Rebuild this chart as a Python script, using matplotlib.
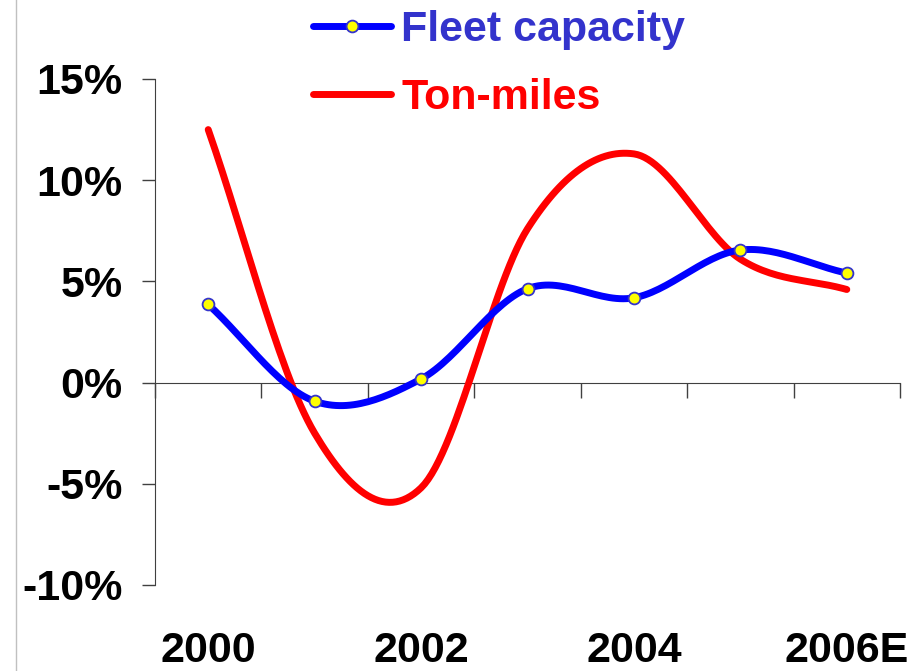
import numpy as np
import matplotlib.pyplot as plt
from matplotlib.lines import Line2D

# --- data ---
years = ['2000', '2001', '2002', '2003', '2004', '2005', '2006E']
fleet_capacity = [3.86, -0.92, 0.18, 4.64, 4.19, 6.55, 5.41]
ton_miles = [12.5, -2.5, -5.2, 7.6, 11.3, 6.1, 4.6]
shown_labels = ['2000', '2002', '2004', '2006E']
yticks = [-10, -5, 0, 5, 10, 15]


def smooth(y, n=30):
    # Excel-style smoothed line: cardinal (Catmull-Rom) spline through the points
    y = np.asarray(y, dtype=float)
    k = len(y)
    m = np.zeros(k)
    m[1:-1] = (y[2:] - y[:-2]) / 2
    m[0] = y[1] - y[0]
    m[-1] = y[-1] - y[-2]
    xs, ys = [], []
    for i in range(k - 1):
        t = np.linspace(0, 1, n, endpoint=(i == k - 2))
        h00 = 2 * t**3 - 3 * t**2 + 1
        h10 = t**3 - 2 * t**2 + t
        h01 = -2 * t**3 + 3 * t**2
        h11 = t**3 - t**2
        xs.append(i + t)
        ys.append(h00 * y[i] + h10 * m[i] + h01 * y[i + 1] + h11 * m[i + 1])
    return np.concatenate(xs), np.concatenate(ys)


BLUE = '#0000FF'
RED = '#FF0000'
LEGEND_BLUE = '#3333CC'
AXIS = '#404040'
LW = 5

plt.rcParams['font.family'] = ['Liberation Sans', 'DejaVu Sans']
plt.rcParams['font.weight'] = 'bold'

fig = plt.figure(figsize=(9.14, 6.71), dpi=100)
ax = fig.add_axes([155 / 914, 1 - 585 / 671, 745 / 914, 506 / 671])

x = np.arange(len(years))
fx, fy = smooth(fleet_capacity)
tx, ty = smooth(ton_miles)

ax.plot(tx, ty, color=RED, lw=LW, solid_capstyle='round', zorder=3)
ax.plot(fx, fy, color=BLUE, lw=LW, solid_capstyle='round', zorder=4)
ax.plot(x, fleet_capacity, ls='none', marker='o', ms=8.5, mfc='yellow',
        mec=LEGEND_BLUE, mew=1.3, zorder=5)

ax.set_xlim(-0.5, len(years) - 0.5)
ax.set_ylim(-10, 15)

# y axis
ax.set_yticks(yticks)
ax.set_yticklabels([f'{v}%' for v in yticks], fontsize=31, fontweight='bold')
ax.tick_params(axis='y', direction='out', length=9.4, width=1, color=AXIS, pad=14)

# x axis sits on the 0% line, ticks between categories
ax.spines['bottom'].set_position(('data', 0))
ax.spines['bottom'].set_color(AXIS)
ax.spines['left'].set_color(AXIS)
ax.spines['top'].set_visible(False)
ax.spines['right'].set_visible(False)
ax.set_xticks(np.arange(-0.5, len(years)))
ax.set_xticklabels([])
ax.tick_params(axis='x', direction='out', length=11, width=1, color=AXIS)

# category labels at the bottom, every other year
for lab in shown_labels:
    ax.text(years.index(lab), -0.131, lab, transform=ax.get_xaxis_transform(),
            ha='center', va='center', fontsize=31, fontweight='bold')

# legend
handles = [
    Line2D([], [], color=BLUE, lw=LW, marker='o', ms=8.5, mfc='yellow',
           mec=LEGEND_BLUE, mew=1.3, solid_capstyle='round'),
    Line2D([], [], color=RED, lw=LW, solid_capstyle='round'),
]
fig.legend(handles, ['Fleet capacity', 'Ton-miles'], loc='upper left',
           bbox_to_anchor=(313 / 914, 0.985), frameon=False, borderpad=0,
           borderaxespad=0, handlelength=1.8, handletextpad=0.25,
           labelspacing=0.64, labelcolor=[LEGEND_BLUE, RED],
           prop={'size': 31, 'weight': 'bold'})

# faint slide border line on the left
fig.add_artist(Line2D([16 / 914, 16 / 914], [0, 1], color='#C0C0C0', lw=1))

fig.savefig('out.png', dpi=100)
